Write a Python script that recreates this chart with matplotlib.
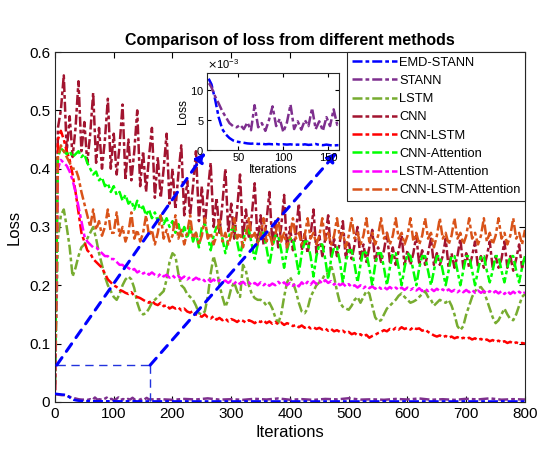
import numpy as np
import matplotlib
matplotlib.use("Agg")
import matplotlib.pyplot as plt
from matplotlib.ticker import ScalarFormatter, FuncFormatter

plt.rcParams['font.family'] = ['Liberation Sans', 'DejaVu Sans']

# main curves, sampled every 5 iterations (0..800)
iters = np.arange(0, 801, 5)

cnn = [
    0.03, 0.47, 0.50, 0.56, 0.43, 0.49, 0.42, 0.47, 0.55, 0.43,
    0.48, 0.41, 0.46, 0.53, 0.41, 0.47, 0.40, 0.45, 0.52, 0.40,
    0.46, 0.39, 0.44, 0.51, 0.38, 0.45, 0.38, 0.43, 0.50, 0.37,
    0.43, 0.36, 0.42, 0.47, 0.35, 0.42, 0.35, 0.40, 0.46, 0.34,
    0.40, 0.33, 0.39, 0.44, 0.32, 0.38, 0.32, 0.37, 0.43, 0.31,
    0.37, 0.30, 0.36, 0.41, 0.30, 0.35, 0.29, 0.34, 0.40, 0.29,
    0.34, 0.28, 0.33, 0.39, 0.28, 0.33, 0.28, 0.32, 0.375, 0.27,
    0.32, 0.27, 0.31, 0.36, 0.27, 0.31, 0.265, 0.30, 0.355, 0.26,
    0.30, 0.26, 0.29, 0.34, 0.26, 0.29, 0.255, 0.285, 0.33, 0.255,
    0.285, 0.25, 0.28, 0.32, 0.25, 0.28, 0.25, 0.275, 0.31, 0.245,
    0.275, 0.245, 0.27, 0.30, 0.245, 0.27, 0.24, 0.265, 0.295, 0.24,
    0.265, 0.24, 0.26, 0.29, 0.24, 0.265, 0.235, 0.26, 0.285, 0.235,
    0.26, 0.235, 0.255, 0.285, 0.235, 0.26, 0.235, 0.255, 0.28, 0.235,
    0.255, 0.235, 0.25, 0.28, 0.23, 0.255, 0.23, 0.25, 0.28, 0.23,
    0.255, 0.23, 0.25, 0.275, 0.23, 0.25, 0.23, 0.25, 0.275, 0.23,
    0.25, 0.23, 0.245, 0.275, 0.23, 0.25, 0.225, 0.245, 0.27, 0.23,
    0.25,
]

cnn_lstm_att = [
    0.02, 0.42, 0.44, 0.43, 0.42, 0.41, 0.40, 0.40, 0.385, 0.36,
    0.34, 0.32, 0.30, 0.33, 0.295, 0.31, 0.285, 0.30, 0.33, 0.29,
    0.29, 0.325, 0.285, 0.30, 0.275, 0.29, 0.325, 0.28, 0.295, 0.275,
    0.29, 0.32, 0.285, 0.295, 0.27, 0.29, 0.32, 0.28, 0.295, 0.275,
    0.285, 0.32, 0.28, 0.295, 0.27, 0.29, 0.32, 0.28, 0.29, 0.27,
    0.285, 0.315, 0.28, 0.29, 0.27, 0.285, 0.315, 0.275, 0.29, 0.27,
    0.285, 0.315, 0.28, 0.29, 0.265, 0.285, 0.315, 0.28, 0.29, 0.27,
    0.285, 0.315, 0.275, 0.29, 0.27, 0.285, 0.315, 0.275, 0.29, 0.265,
    0.285, 0.315, 0.28, 0.29, 0.27, 0.285, 0.315, 0.28, 0.29, 0.27,
    0.285, 0.315, 0.275, 0.29, 0.27, 0.285, 0.315, 0.28, 0.29, 0.265,
    0.285, 0.315, 0.28, 0.29, 0.27, 0.285, 0.315, 0.275, 0.29, 0.27,
    0.285, 0.315, 0.28, 0.29, 0.27, 0.285, 0.315, 0.28, 0.29, 0.27,
    0.285, 0.315, 0.275, 0.29, 0.27, 0.285, 0.315, 0.28, 0.29, 0.265,
    0.285, 0.315, 0.28, 0.29, 0.27, 0.285, 0.315, 0.28, 0.29, 0.27,
    0.285, 0.315, 0.28, 0.29, 0.27, 0.285, 0.315, 0.275, 0.29, 0.27,
    0.285, 0.315, 0.28, 0.29, 0.27, 0.285, 0.315, 0.28, 0.29, 0.27,
    0.295,
]

cnn_att = [
    0.03, 0.42, 0.435, 0.43, 0.425, 0.43, 0.42, 0.425, 0.43, 0.42,
    0.425, 0.41, 0.40, 0.39, 0.395, 0.38, 0.385, 0.37, 0.375, 0.36,
    0.37, 0.355, 0.36, 0.345, 0.355, 0.34, 0.345, 0.33, 0.345, 0.33,
    0.335, 0.32, 0.33, 0.315, 0.325, 0.31, 0.32, 0.305, 0.315, 0.30,
    0.31, 0.29, 0.305, 0.285, 0.30, 0.28, 0.30, 0.275, 0.29, 0.265,
    0.30, 0.305, 0.285, 0.26, 0.285, 0.30, 0.30, 0.28, 0.255, 0.28,
    0.295, 0.30, 0.275, 0.25, 0.275, 0.295, 0.295, 0.27, 0.245, 0.27,
    0.29, 0.29, 0.265, 0.235, 0.265, 0.285, 0.285, 0.26, 0.23, 0.26,
    0.28, 0.28, 0.25, 0.22, 0.255, 0.275, 0.275, 0.25, 0.215, 0.25,
    0.27, 0.27, 0.245, 0.21, 0.245, 0.265, 0.265, 0.24, 0.205, 0.24,
    0.26, 0.26, 0.235, 0.205, 0.235, 0.26, 0.255, 0.23, 0.20, 0.235,
    0.255, 0.255, 0.23, 0.20, 0.23, 0.255, 0.255, 0.23, 0.20, 0.23,
    0.255, 0.25, 0.225, 0.20, 0.23, 0.25, 0.25, 0.225, 0.20, 0.225,
    0.25, 0.25, 0.225, 0.20, 0.225, 0.25, 0.25, 0.225, 0.20, 0.225,
    0.25, 0.25, 0.225, 0.20, 0.225, 0.25, 0.25, 0.225, 0.205, 0.225,
    0.25, 0.25, 0.225, 0.205, 0.23, 0.25, 0.25, 0.225, 0.205, 0.23,
    0.25,
]

lstm_att = [
    0.02, 0.40, 0.415, 0.41, 0.405, 0.395, 0.38, 0.36, 0.335, 0.31,
    0.285, 0.275, 0.27, 0.265, 0.265, 0.26, 0.255, 0.25, 0.25, 0.245,
    0.245, 0.24, 0.235, 0.235, 0.23, 0.23, 0.225, 0.228, 0.222, 0.225,
    0.22, 0.223, 0.218, 0.222, 0.218, 0.215, 0.22, 0.215, 0.218, 0.213,
    0.217, 0.212, 0.216, 0.211, 0.215, 0.21, 0.214, 0.209, 0.213, 0.21,
    0.212, 0.207, 0.211, 0.206, 0.21, 0.205, 0.209, 0.206, 0.208, 0.204,
    0.208, 0.203, 0.207, 0.202, 0.206, 0.201, 0.205, 0.20, 0.204, 0.20,
    0.205, 0.20, 0.204, 0.199, 0.203, 0.20, 0.206, 0.201, 0.205, 0.20,
    0.204, 0.199, 0.203, 0.198, 0.205, 0.20, 0.206, 0.201, 0.207, 0.202,
    0.208, 0.203, 0.209, 0.204, 0.207, 0.201, 0.205, 0.20, 0.203, 0.198,
    0.202, 0.197, 0.20, 0.196, 0.20, 0.195, 0.199, 0.195, 0.198, 0.194,
    0.198, 0.194, 0.197, 0.193, 0.197, 0.193, 0.196, 0.192, 0.196, 0.192,
    0.196, 0.192, 0.195, 0.191, 0.195, 0.19, 0.194, 0.19, 0.194, 0.19,
    0.194, 0.19, 0.193, 0.189, 0.193, 0.189, 0.192, 0.188, 0.192, 0.188,
    0.192, 0.188, 0.192, 0.187, 0.191, 0.187, 0.19, 0.186, 0.19, 0.186,
    0.19, 0.186, 0.19, 0.185, 0.19, 0.185, 0.189, 0.185, 0.189, 0.185,
    0.188,
]

cnn_lstm = [
    0.02, 0.45, 0.465, 0.45, 0.43, 0.415, 0.39, 0.36, 0.325, 0.29,
    0.275, 0.26, 0.255, 0.245, 0.24, 0.235, 0.23, 0.22, 0.21, 0.205,
    0.20, 0.197, 0.192, 0.19, 0.187, 0.185, 0.188, 0.182, 0.18, 0.178,
    0.175, 0.172, 0.17, 0.174, 0.168, 0.166, 0.17, 0.164, 0.166, 0.16,
    0.163, 0.16, 0.162, 0.157, 0.16, 0.155, 0.153, 0.156, 0.15, 0.148,
    0.146, 0.15, 0.145, 0.143, 0.147, 0.141, 0.144, 0.14, 0.143, 0.138,
    0.142, 0.14, 0.137, 0.141, 0.139, 0.136, 0.14, 0.138, 0.135, 0.139,
    0.137, 0.14, 0.135, 0.138, 0.134, 0.137, 0.133, 0.136, 0.132, 0.135,
    0.133, 0.13, 0.132, 0.128, 0.131, 0.127, 0.13, 0.126, 0.128, 0.125,
    0.127, 0.124, 0.126, 0.122, 0.125, 0.121, 0.123, 0.12, 0.122, 0.118,
    0.12, 0.116, 0.118, 0.114, 0.116, 0.112, 0.115, 0.11, 0.113, 0.115,
    0.118, 0.12, 0.123, 0.121, 0.125, 0.123, 0.127, 0.124, 0.128, 0.125,
    0.127, 0.124, 0.128, 0.125, 0.126, 0.122, 0.124, 0.12, 0.117, 0.114,
    0.112, 0.114, 0.111, 0.113, 0.11, 0.112, 0.109, 0.111, 0.108, 0.11,
    0.108, 0.11, 0.107, 0.109, 0.106, 0.108, 0.105, 0.107, 0.104, 0.106,
    0.103, 0.105, 0.102, 0.104, 0.101, 0.103, 0.10, 0.102, 0.10, 0.101,
    0.10,
]

lstm = [
    0.02, 0.28, 0.32, 0.33, 0.30, 0.265, 0.215, 0.23, 0.25, 0.265,
    0.27, 0.28, 0.29, 0.30, 0.28, 0.255, 0.235, 0.215, 0.20, 0.19,
    0.18, 0.175, 0.185, 0.20, 0.21, 0.215, 0.21, 0.195, 0.17, 0.155,
    0.15, 0.152, 0.16, 0.17, 0.175, 0.18, 0.185, 0.19, 0.21, 0.24,
    0.255, 0.25, 0.22, 0.20, 0.195, 0.185, 0.18, 0.175, 0.165, 0.152,
    0.15, 0.155, 0.18, 0.22, 0.25, 0.23, 0.20, 0.18, 0.163, 0.175,
    0.195, 0.205, 0.19, 0.18, 0.235, 0.225, 0.20, 0.185, 0.178, 0.175,
    0.175, 0.172, 0.165, 0.17, 0.16, 0.145, 0.135, 0.15, 0.18, 0.205,
    0.214, 0.205, 0.19, 0.17, 0.155, 0.152, 0.16, 0.18, 0.19, 0.20,
    0.205, 0.21, 0.22, 0.22, 0.235, 0.215, 0.19, 0.17, 0.163, 0.16,
    0.158, 0.165, 0.175, 0.18, 0.17, 0.18, 0.19, 0.186, 0.165, 0.145,
    0.138, 0.14, 0.15, 0.16, 0.165, 0.17, 0.175, 0.182, 0.186, 0.18,
    0.175, 0.17, 0.172, 0.175, 0.18, 0.185, 0.19, 0.18, 0.175, 0.165,
    0.17, 0.175, 0.172, 0.17, 0.175, 0.165, 0.15, 0.13, 0.123, 0.13,
    0.15, 0.165, 0.18, 0.19, 0.195, 0.197, 0.19, 0.175, 0.16, 0.145,
    0.135, 0.14, 0.15, 0.16, 0.15, 0.142, 0.14, 0.15, 0.165, 0.18,
    0.185,
]

# the two small-loss curves (shown in the inset), finer at the start
small_iters = np.concatenate([np.arange(0, 161, 4), np.arange(180, 801, 20)])

emd_stann = [
    0.0140, 0.0135, 0.0130, 0.0125, 0.0122, 0.0110, 0.0085, 0.0055, 0.0035, 0.0026,
    0.0020, 0.0016, 0.0014, 0.0013, 0.0012, 0.0011, 0.00105, 0.0011, 0.0010, 0.00105,
    0.00095, 0.0010, 0.00095, 0.0010, 0.0009, 0.00095, 0.0009, 0.00095, 0.00085, 0.0009,
    0.00085, 0.00095, 0.00085, 0.0009, 0.0010, 0.00085, 0.0008, 0.0009, 0.0008, 0.00075,
    0.0008,
    0.0008, 0.00075, 0.0008, 0.0007, 0.00075, 0.0007, 0.00075, 0.0007, 0.0008, 0.0007,
    0.00075, 0.0007, 0.00075, 0.00065, 0.0007, 0.00075, 0.0007, 0.00065, 0.0007, 0.00075,
    0.0007, 0.00065, 0.0007, 0.0007, 0.00065, 0.0007, 0.00075, 0.0007, 0.00065, 0.0007,
    0.0007, 0.00065,
]

stann = [
    0.0130, 0.0125, 0.0120, 0.0115, 0.0115, 0.0105, 0.0090, 0.0078, 0.0065, 0.0055,
    0.0045, 0.0040, 0.0038, 0.0042, 0.0035, 0.0046, 0.0033, 0.0075, 0.0038, 0.0045,
    0.0032, 0.0050, 0.0073, 0.0040, 0.0052, 0.0030, 0.0046, 0.0076, 0.0035, 0.0048,
    0.0034, 0.0050, 0.0040, 0.0070, 0.0035, 0.0048, 0.0032, 0.0055, 0.0040, 0.0068,
    0.0042,
    0.0045, 0.0035, 0.0050, 0.0040, 0.0060, 0.0038, 0.0045, 0.0035, 0.0052, 0.0040,
    0.0058, 0.0036, 0.0046, 0.0034, 0.0050, 0.0042, 0.0062, 0.0038, 0.0044, 0.0035,
    0.0050, 0.0040, 0.0058, 0.0036, 0.0045, 0.0034, 0.0052, 0.0041, 0.0060, 0.0037,
    0.0046, 0.0040,
]

series = [
    ("EMD-STANN", small_iters, emd_stann, "#0000FF"),
    ("STANN", small_iters, stann, "#7E2F8E"),
    ("LSTM", iters, lstm, "#77AC30"),
    ("CNN", iters, cnn, "#A2142F"),
    ("CNN-LSTM", iters, cnn_lstm, "#FF0000"),
    ("CNN-Attention", iters, cnn_att, "#00FF00"),
    ("LSTM-Attention", iters, lstm_att, "#FF00FF"),
    ("CNN-LSTM-Attention", iters, cnn_lstm_att, "#D95319"),
]

# zoomed region shown in the inset
zoom_x = (15, 162)
zoom_y = (0, 0.0129)
box_top = 0.063

line_dash = (4, 1.2, 1.5, 1.2)

fig = plt.figure(figsize=(5.39, 4.49), dpi=100)
ax = fig.add_axes([0.102, 0.105, 0.872, 0.779])

for name, x, y, c in series:
    z = 3 if name == "EMD-STANN" else 2
    ax.plot(x, y, color=c, lw=1.8, label=name, zorder=z, dashes=line_dash)

ax.set_xlim(0, 800)
ax.set_ylim(0, 0.6)
ax.set_xticks(np.arange(0, 801, 100))
ax.set_yticks(np.arange(0, 0.61, 0.1))
ax.yaxis.set_major_formatter(FuncFormatter(lambda v, p: f"{v:g}"))
ax.tick_params(direction='in', top=True, right=True, length=4, labelsize=11)
ax.set_xlabel("Iterations", fontsize=12, labelpad=3)
ax.set_ylabel("Loss", fontsize=12, labelpad=5)
ax.set_title("Comparison of loss from different methods", fontsize=11.5,
             fontweight='bold', pad=5)
for s in ax.spines.values():
    s.set_linewidth(0.8)
    s.set_color('#262626')

leg = ax.legend(loc='upper right', bbox_to_anchor=(1, 1), borderaxespad=0,
                fontsize=9.3, handlelength=3.5, handletextpad=0.15,
                labelspacing=0.48, fancybox=False, framealpha=1,
                edgecolor='#262626', borderpad=0.35)
leg.get_frame().set_linewidth(0.8)
leg.set_zorder(10)

# zoom box in the main axes
ax.plot([zoom_x[0] - 12, zoom_x[1]], [box_top, box_top], color='#2233DD',
        lw=1.0, dashes=(6, 4), zorder=4)
ax.plot([zoom_x[1], zoom_x[1]], [box_top, 0], color='#2233DD',
        lw=1.0, dashes=(6, 4), zorder=4)

# inset
axins = fig.add_axes([0.384, 0.666, 0.245, 0.1715])
axins.set_zorder(8)
for name, x, y, c in series[:2]:
    axins.plot(x, y, color=c, lw=1.8, dashes=line_dash)
axins.set_xlim(*zoom_x)
axins.set_ylim(*zoom_y)
axins.set_xticks([50, 100, 150])
axins.set_yticks([0, 0.005, 0.01])
fmt = ScalarFormatter(useMathText=True)
fmt.set_powerlimits((-3, -3))
axins.yaxis.set_major_formatter(fmt)
axins.yaxis.get_offset_text().set_fontsize(8)
axins.tick_params(direction='in', top=True, right=True, length=3,
                  labelsize=8, pad=2)
axins.set_xlabel("Iterations", fontsize=8.5, labelpad=1)
axins.set_ylabel("Loss", fontsize=8.5, labelpad=1)
for s in axins.spines.values():
    s.set_linewidth(0.8)
    s.set_color('#262626')

# dashed arrows from the zoom box to the inset corners
for start, corner in [((zoom_x[0] - 12, box_top), (0, 0)),
                      ((zoom_x[1], box_top), (1, 0))]:
    ax.annotate('', xy=corner, xycoords=axins.transAxes,
                xytext=start, textcoords='data', annotation_clip=False,
                arrowprops=dict(arrowstyle='-|>', color='#0000FF', lw=2.2,
                                linestyle=(0, (3, 2.5)), mutation_scale=14,
                                shrinkA=0, shrinkB=2),
                zorder=5)

fig.savefig("out.png", dpi=100)
